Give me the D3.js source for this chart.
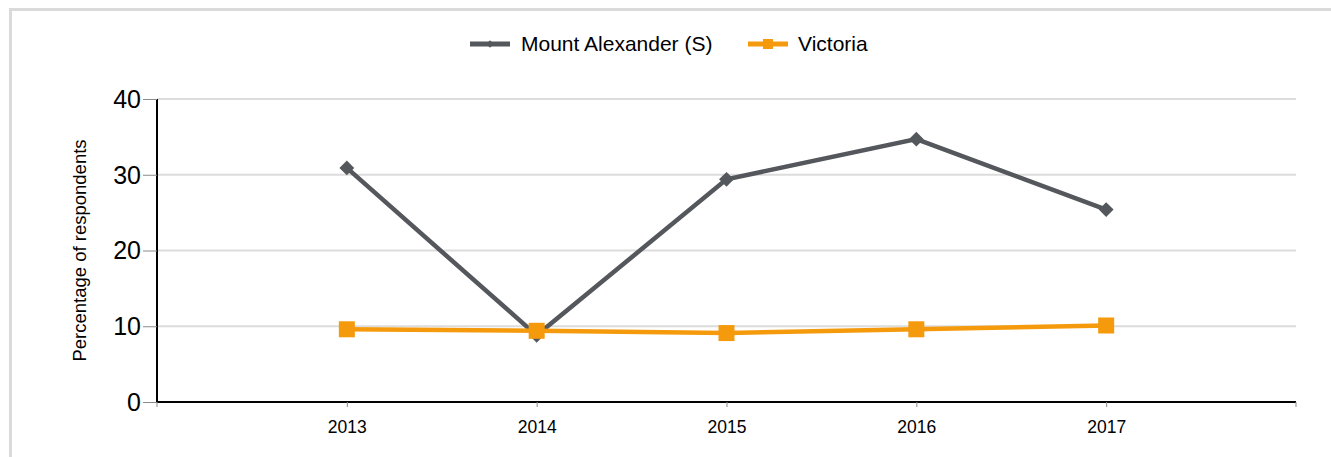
<!DOCTYPE html>
<html>
<head>
<meta charset="utf-8">
<script src="https://cdn.jsdelivr.net/npm/d3@7"></script>
<style>
  html, body { margin: 0; padding: 0; background: #fff; }
  svg { display: block; font-family: "Liberation Sans", Arial, sans-serif; }
</style>
</head>
<body>
<svg id="chart" width="1331" height="457"></svg>
<script>
const years = ["2013", "2014", "2015", "2016", "2017"];
const mountAlexander = [30.9, 8.8, 29.4, 34.7, 25.4];
const victoria = [9.6, 9.4, 9.1, 9.6, 10.1];
const yTicks = [0, 10, 20, 30, 40];
const seriesNames = ["Mount Alexander (S)", "Victoria"];
const seriesColors = ["#54575b", "#f59a0c"];

const svg = d3.select("#chart");
const W = 1331, H = 457;
const m = { left: 157, right: 1296, top: 99, bottom: 402 };

// frame
svg.append("path")
  .attr("d", `M10.5,${H} L10.5,9.5 L${W},9.5`)
  .attr("fill", "none").attr("stroke", "#dadada").attr("stroke-width", 3);

const x = d3.scalePoint().domain(years).range([m.left, m.right]).padding(1);
const y = d3.scaleLinear().domain([0, 40]).range([m.bottom, m.top]);

// gridlines
svg.append("g").selectAll("line").data(yTicks.filter(d => d > 0)).join("line")
  .attr("x1", m.left).attr("x2", m.right)
  .attr("y1", d => y(d)).attr("y2", d => y(d))
  .attr("stroke", "#dcdcdc").attr("stroke-width", 2);

// y axis
const yAxis = svg.append("g").attr("transform", `translate(${m.left},0)`)
  .call(d3.axisLeft(y).tickValues(yTicks).tickSize(14).tickPadding(2));
yAxis.select(".domain").attr("stroke", "#000").attr("stroke-width", 2).attr("d", `M0,${m.top}V${m.bottom}`);
yAxis.selectAll(".tick line").attr("stroke", "#8a8a8a").attr("stroke-width", 1);
yAxis.selectAll(".tick text").attr("font-size", 25).attr("fill", "#000")
  .attr("font-family", "Liberation Sans, Arial, sans-serif").attr("dy", "0.33em");

// x axis
const xAxis = svg.append("g").attr("transform", `translate(0,${m.bottom})`)
  .call(d3.axisBottom(x).tickSize(5).tickPadding(14));
xAxis.select(".domain").attr("stroke", "#000").attr("stroke-width", 2).attr("d", `M${m.left},0H${m.right}`);
xAxis.selectAll(".tick line").attr("stroke", "#8a8a8a").attr("stroke-width", 1);
xAxis.selectAll(".tick text").attr("font-size", 17.5).attr("fill", "#000")
  .attr("font-family", "Liberation Sans, Arial, sans-serif");
// end ticks
xAxis.selectAll("line.endtick").data([m.left, m.right]).join("line").attr("class", "endtick")
  .attr("x1", d => d).attr("x2", d => d).attr("y1", 0).attr("y2", 5)
  .attr("stroke", "#8a8a8a");

// axis title
svg.append("text")
  .attr("transform", `translate(86,${(m.top + m.bottom) / 2}) rotate(-90)`)
  .attr("text-anchor", "middle").attr("font-size", 18.5).attr("fill", "#000")
  .text("Percentage of respondents");

const line = d3.line().x((d, i) => x(years[i])).y(d => y(d));

// Mount Alexander
svg.append("path").datum(mountAlexander).attr("d", line)
  .attr("fill", "none").attr("stroke", seriesColors[0]).attr("stroke-width", 4.5).attr("stroke-linejoin", "miter");
svg.append("g").selectAll("path").data(mountAlexander).join("path")
  .attr("transform", (d, i) => `translate(${x(years[i])},${y(d)}) rotate(45)`)
  .attr("d", d3.symbol().type(d3.symbolSquare).size(110))
  .attr("fill", seriesColors[0]);

// Victoria
svg.append("path").datum(victoria).attr("d", line)
  .attr("fill", "none").attr("stroke", seriesColors[1]).attr("stroke-width", 4.5);
svg.append("g").selectAll("rect").data(victoria).join("rect")
  .attr("x", (d, i) => x(years[i]) - 8).attr("y", d => y(d) - 8)
  .attr("width", 16).attr("height", 16).attr("fill", seriesColors[1]);

// legend
const legend = svg.append("g");
const legendItems = [
  { name: seriesNames[0], color: seriesColors[0], x0: 470, tx: 521, shape: "diamond" },
  { name: seriesNames[1], color: seriesColors[1], x0: 748, tx: 798, shape: "square" }
];
const ly = 44;
legendItems.forEach(it => {
  legend.append("line").attr("x1", it.x0).attr("x2", it.x0 + 40).attr("y1", ly).attr("y2", ly)
    .attr("stroke", it.color).attr("stroke-width", 5);
  if (it.shape === "diamond") {
    legend.append("path").attr("transform", `translate(${it.x0 + 20},${ly}) rotate(45)`)
      .attr("d", d3.symbol().type(d3.symbolSquare).size(30)).attr("fill", it.color);
  } else {
    legend.append("rect").attr("x", it.x0 + 15).attr("y", ly - 5).attr("width", 10).attr("height", 10)
      .attr("fill", it.color);
  }
  legend.append("text").attr("x", it.tx).attr("y", ly + 7).attr("font-size", 21).attr("fill", "#000")
    .text(it.name);
});
</script>
</body>
</html>
